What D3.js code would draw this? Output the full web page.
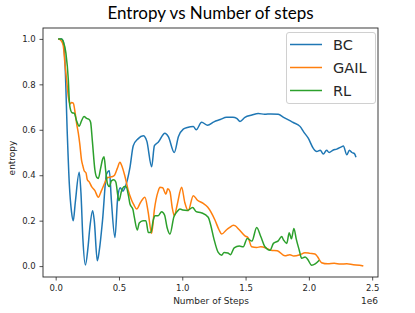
<!DOCTYPE html>
<html lang="en">
<head>
    <script src='https://d3js.org/d3.v7.min.js'></script>
    <style>
        body { margin: 0; background: #fff; }
        text { font-family: "DejaVu Sans", sans-serif; fill: #262626; }
    </style>
</head>
<body>

<script>
// steps in millions (axis shows 1e6 offset)
var bcSteps = [0.02,0.047,0.06,0.073,0.092,0.108,0.125,0.139,0.155,0.186,0.2,0.215,0.235,0.255,0.27,0.292,0.305,0.329,0.345,0.37,0.402,0.424,0.44,0.468,0.49,0.51,0.53,0.547,0.587,0.613,0.65,0.692,0.72,0.758,0.78,0.81,0.863,0.89,0.937,0.97,1.008,1.04,1.087,1.11,1.153,1.2,1.25,1.3,1.35,1.4,1.43,1.456,1.495,1.55,1.6,1.65,1.7,1.758,1.8,1.85,1.877,1.93,1.96,1.995,2.035,2.062,2.09,2.114,2.14,2.16,2.19,2.22,2.26,2.272,2.3,2.32,2.34,2.36,2.372];
var bcValues = [1.0,1.0,0.99,0.905,0.58,0.36,0.24,0.2,0.28,0.413,0.32,0.12,0.005,0.08,0.17,0.244,0.2,0.023,0.07,0.2,0.405,0.42,0.29,0.126,0.30,0.345,0.33,0.345,0.435,0.53,0.56,0.574,0.55,0.437,0.53,0.545,0.585,0.57,0.50,0.57,0.603,0.61,0.614,0.6,0.633,0.62,0.635,0.645,0.655,0.655,0.65,0.637,0.655,0.665,0.672,0.668,0.67,0.668,0.655,0.64,0.632,0.615,0.59,0.563,0.518,0.504,0.51,0.493,0.51,0.5,0.51,0.515,0.526,0.529,0.49,0.51,0.5,0.495,0.479];

var gailSteps = [0.02,0.047,0.06,0.073,0.09,0.1,0.113,0.125,0.139,0.155,0.166,0.179,0.19,0.205,0.213,0.225,0.24,0.25,0.265,0.284,0.31,0.337,0.36,0.39,0.41,0.442,0.465,0.487,0.508,0.52,0.545,0.574,0.6,0.618,0.64,0.67,0.705,0.73,0.758,0.78,0.81,0.824,0.845,0.871,0.885,0.903,0.92,0.937,0.96,0.995,1.02,1.047,1.087,1.12,1.166,1.2,1.258,1.29,1.311,1.35,1.375,1.403,1.416,1.45,1.495,1.52,1.548,1.588,1.62,1.667,1.7,1.75,1.811,1.85,1.88,1.93,1.969,2.009,2.048,2.07,2.1,2.15,2.2,2.25,2.3,2.35,2.4,2.43];
var gailValues = [1.0,0.99,0.97,0.893,0.8,0.746,0.714,0.72,0.717,0.67,0.626,0.585,0.54,0.464,0.445,0.42,0.41,0.38,0.371,0.35,0.332,0.303,0.33,0.369,0.39,0.393,0.4,0.43,0.457,0.445,0.4,0.332,0.29,0.269,0.251,0.28,0.303,0.24,0.144,0.25,0.33,0.347,0.345,0.317,0.34,0.327,0.26,0.222,0.27,0.347,0.28,0.244,0.31,0.29,0.276,0.26,0.203,0.16,0.141,0.16,0.17,0.18,0.178,0.16,0.133,0.125,0.085,0.082,0.085,0.078,0.07,0.068,0.045,0.05,0.044,0.05,0.059,0.056,0.053,0.04,0.015,0.01,0.012,0.009,0.01,0.006,0.004,0.0];

var rlSteps = [0.02,0.047,0.06,0.081,0.1,0.108,0.113,0.13,0.147,0.165,0.186,0.205,0.224,0.245,0.265,0.276,0.29,0.31,0.324,0.337,0.355,0.371,0.382,0.395,0.41,0.424,0.44,0.46,0.475,0.494,0.5,0.52,0.545,0.555,0.575,0.587,0.61,0.621,0.645,0.66,0.69,0.713,0.732,0.752,0.77,0.784,0.81,0.837,0.86,0.88,0.903,0.934,0.96,0.982,1.003,1.04,1.082,1.11,1.15,1.205,1.225,1.25,1.284,1.311,1.33,1.36,1.38,1.41,1.45,1.482,1.513,1.55,1.588,1.62,1.653,1.693,1.72,1.758,1.785,1.8,1.825,1.845,1.862,1.882,1.9,1.924,1.943,1.97,1.99,2.022,2.05,2.082];
var rlValues = [1.0,1.0,0.988,0.937,0.82,0.728,0.70,0.675,0.673,0.64,0.616,0.64,0.658,0.65,0.645,0.633,0.55,0.423,0.391,0.386,0.43,0.471,0.481,0.42,0.36,0.35,0.375,0.38,0.37,0.30,0.288,0.33,0.35,0.35,0.31,0.273,0.25,0.217,0.159,0.19,0.2,0.2,0.148,0.148,0.2,0.222,0.222,0.239,0.225,0.17,0.141,0.217,0.24,0.251,0.247,0.245,0.258,0.24,0.235,0.215,0.18,0.12,0.06,0.048,0.06,0.058,0.05,0.08,0.088,0.085,0.122,0.11,0.17,0.13,0.085,0.07,0.1,0.111,0.13,0.115,0.10,0.147,0.12,0.166,0.12,0.07,0.034,0.04,0.03,0.004,0.01,0.026];

var seriesNames = ["BC", "GAIL", "RL"];
var colors = ["#1f77b4", "#ff7f0e", "#2ca02c"];
var xTicks = [0, 0.5, 1.0, 1.5, 2.0, 2.5];
var yTicks = [0, 0.2, 0.4, 0.6, 0.8, 1.0];

var width = 415, height = 313;
var margin = {left: 43, right: 37, top: 28, bottom: 36};

var svg = d3.select("body").append("svg")
    .attr("width", width)
    .attr("height", height);

var x = d3.scaleLinear().domain([-0.1, 2.546]).range([margin.left, width - margin.right]);
var y = d3.scaleLinear().domain([-0.048, 1.048]).range([height - margin.bottom, margin.top]);

var series = [
    {name: seriesNames[0], steps: bcSteps, values: bcValues},
    {name: seriesNames[1], steps: gailSteps, values: gailValues},
    {name: seriesNames[2], steps: rlSteps, values: rlValues}
];

var line = d3.line()
    .x(function(d) { return x(d[0]); })
    .y(function(d) { return y(d[1]); })
    .curve(d3.curveMonotoneX);

svg.selectAll("path.series")
    .data(series)
    .enter().append("path")
    .attr("class", "series")
    .attr("fill", "none")
    .attr("stroke", function(d, i) { return colors[i]; })
    .attr("stroke-width", 1.5)
    .attr("stroke-linejoin", "round")
    .attr("d", function(d) { return line(d3.zip(d.steps, d.values)); });

// axes
var xAxis = svg.append("g")
    .attr("transform", "translate(0," + (height - margin.bottom) + ")")
    .call(d3.axisBottom(x).tickValues(xTicks).tickFormat(d3.format(".1f")).tickSizeOuter(0).tickSize(3.5));
var yAxis = svg.append("g")
    .attr("transform", "translate(" + margin.left + ",0)")
    .call(d3.axisLeft(y).tickValues(yTicks).tickFormat(d3.format(".1f")).tickSizeOuter(0).tickSize(3.5));

[xAxis, yAxis].forEach(function(g) {
    g.select(".domain").remove();
    g.selectAll(".tick line").attr("stroke", "#262626").attr("stroke-width", 0.8);
    g.selectAll(".tick text").attr("font-size", "8.5px").attr("font-family", "DejaVu Sans").attr("fill", "#262626");
});
xAxis.selectAll(".tick text").attr("dy", "0.9em");
yAxis.selectAll(".tick text").attr("dx", "-0.1em");

// frame
svg.append("rect")
    .attr("x", margin.left)
    .attr("y", margin.top)
    .attr("width", width - margin.left - margin.right)
    .attr("height", height - margin.top - margin.bottom)
    .attr("fill", "none")
    .attr("stroke", "#262626")
    .attr("stroke-width", 0.9);

// labels
svg.append("text")
    .attr("x", (margin.left + width - margin.right) / 2)
    .attr("y", 19)
    .attr("text-anchor", "middle")
    .style("font-family", "Lato, sans-serif")
    .style("font-size", "17px")
    .style("fill", "#000")
    .text("Entropy vs Number of steps");

svg.append("text")
    .attr("x", 211)
    .attr("y", 304)
    .attr("text-anchor", "middle")
    .attr("font-size", "9px")
    .text("Number of Steps");

svg.append("text")
    .attr("x", 378)
    .attr("y", 304)
    .attr("text-anchor", "end")
    .attr("font-size", "9px")
    .text("1e6");

svg.append("text")
    .attr("transform", "translate(15,158) rotate(-90)")
    .attr("text-anchor", "middle")
    .attr("font-size", "9px")
    .text("entropy");

// legend
var legend = svg.append("g");
legend.append("rect")
    .attr("x", 286.5).attr("y", 32.5)
    .attr("width", 89).attr("height", 71)
    .attr("rx", 2.5)
    .attr("fill", "#fff")
    .attr("fill-opacity", 0.8)
    .attr("stroke", "#d0d0d0");

var items = legend.selectAll("g.item")
    .data(seriesNames)
    .enter().append("g")
    .attr("class", "item")
    .attr("transform", function(d, i) { return "translate(0," + (44.5 + i * 23) + ")"; });
items.append("line")
    .attr("x1", 290).attr("x2", 322)
    .attr("stroke", function(d, i) { return colors[i]; })
    .attr("stroke-width", 1.5);
items.append("text")
    .attr("x", 333)
    .attr("dy", "0.36em")
    .attr("font-size", "14.5px")
    .text(function(d) { return d; });
</script>

</body>
</html>
